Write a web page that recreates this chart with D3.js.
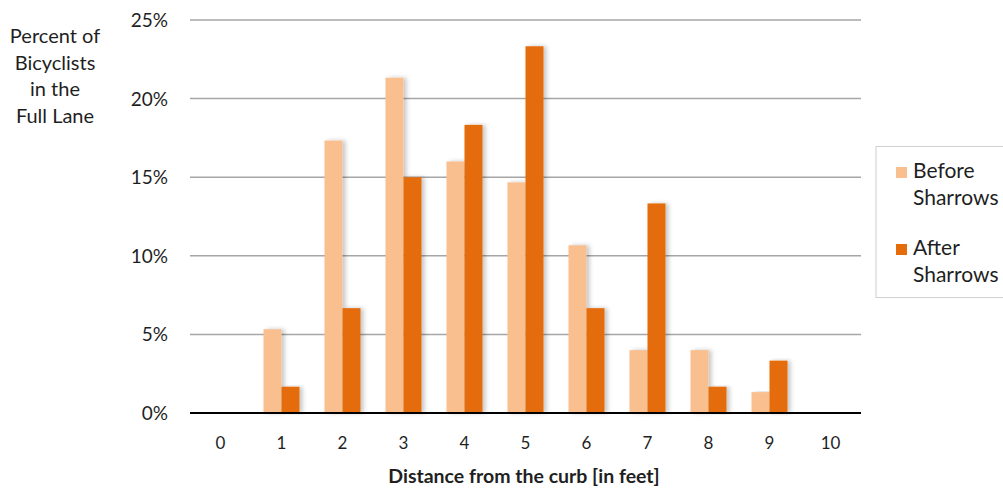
<!DOCTYPE html>
<html>
<head>
<meta charset="utf-8">
<script src="https://cdn.jsdelivr.net/npm/d3@7"></script>
<style>
  body { margin: 0; background: #fff; }
  svg text { font-family: Lato, "Open Sans", sans-serif; fill: #1f1f1f; }
</style>
</head>
<body>
<svg id="chart" width="1003" height="489"></svg>
<script>
// chart data
var distances = ["0", "1", "2", "3", "4", "5", "6", "7", "8", "9", "10"];
var beforeSharrows = [0, 5.33, 17.33, 21.33, 16.0, 14.67, 10.67, 4.0, 4.0, 1.33, 0];
var afterSharrows = [0, 1.67, 6.67, 15.0, 18.33, 23.33, 6.67, 13.33, 1.67, 3.33, 0];
var yTicks = [0, 5, 10, 15, 20, 25];
var seriesNames = ["Before Sharrows", "After Sharrows"];
var seriesColors = ["#f9bf8f", "#e46c0a"];
var yTitleLines = ["Percent of", "Bicyclists", "in the", "Full Lane"];

var svg = d3.select("#chart");
var plotLeft = 190, plotRight = 861, plotTop = 20, plotBottom = 413;

var x = d3.scaleBand().domain(distances).range([plotLeft, plotRight]);
var y = d3.scaleLinear().domain([0, 25]).range([plotBottom, plotTop]);
var barW = 18;

// soft shadow like the spreadsheet one
var defs = svg.append("defs");
var f = defs.append("filter").attr("id", "shadow").attr("x", "-20%").attr("y", "-5%").attr("width", "160%").attr("height", "110%");
f.append("feDropShadow").attr("dx", 3).attr("dy", 0).attr("stdDeviation", 2)
  .attr("flood-color", "#000").attr("flood-opacity", 0.22);

// gridlines
svg.append("g").selectAll("line")
  .data(yTicks.filter(d => d > 0))
  .enter().append("line")
  .attr("x1", plotLeft).attr("x2", plotRight)
  .attr("y1", d => y(d)).attr("y2", d => y(d))
  .attr("stroke", "#a6a6a6").attr("stroke-width", 1.5);

// y tick labels
svg.append("g").selectAll("text")
  .data(yTicks)
  .enter().append("text")
  .attr("x", 168).attr("y", d => y(d) + 7)
  .attr("text-anchor", "end")
  .style("font-size", "19px")
  .text(d => d + "%");

// bars
var series = [beforeSharrows, afterSharrows];
series.forEach(function(vals, s) {
  svg.append("g").selectAll("rect")
    .data(vals.map((v, i) => ({ k: distances[i], v: v })).filter(d => d.v > 0))
    .enter().append("rect")
    .attr("x", d => x(d.k) + x.bandwidth() / 2 - barW + s * barW)
    .attr("y", d => y(d.v))
    .attr("width", barW)
    .attr("height", d => y(0) - y(d.v))
    .attr("fill", seriesColors[s])
    .attr("filter", "url(#shadow)");
});

// baseline axis
svg.append("line")
  .attr("x1", plotLeft).attr("x2", plotRight)
  .attr("y1", y(0)).attr("y2", y(0))
  .attr("stroke", "#000").attr("stroke-width", 2);

// x tick labels
svg.append("g").selectAll("text")
  .data(distances)
  .enter().append("text")
  .attr("x", d => x(d) + x.bandwidth() / 2)
  .attr("y", 449)
  .attr("text-anchor", "middle")
  .style("font-size", "17px")
  .text(d => d);

// axis titles
svg.append("text")
  .attr("x", 524).attr("y", 483)
  .attr("text-anchor", "middle")
  .style("font-size", "19.5px").style("font-weight", "bold")
  .text("Distance from the curb [in feet]");

svg.append("g").selectAll("text")
  .data(yTitleLines)
  .enter().append("text")
  .attr("x", 55).attr("y", (d, i) => 43 + i * 26.7)
  .attr("text-anchor", "middle")
  .style("font-size", "20px")
  .text(d => d);

// legend
var lg = svg.append("g");
lg.append("rect")
  .attr("x", 876).attr("y", 146.5).attr("width", 140).attr("height", 151)
  .attr("fill", "#fff").attr("stroke", "#d0d0d0").attr("stroke-width", 1);
seriesNames.forEach(function(name, s) {
  var words = name.split(" ");
  var by = 178 + s * 77;
  lg.append("rect")
    .attr("x", 896).attr("y", by - 11).attr("width", 11).attr("height", 11)
    .attr("fill", seriesColors[s]);
  lg.append("text")
    .attr("x", 913).attr("y", by)
    .style("font-size", "21px")
    .text(words[0]);
  lg.append("text")
    .attr("x", 913).attr("y", by + 27)
    .style("font-size", "21px")
    .text(words[1]);
});
</script>
</body>
</html>
